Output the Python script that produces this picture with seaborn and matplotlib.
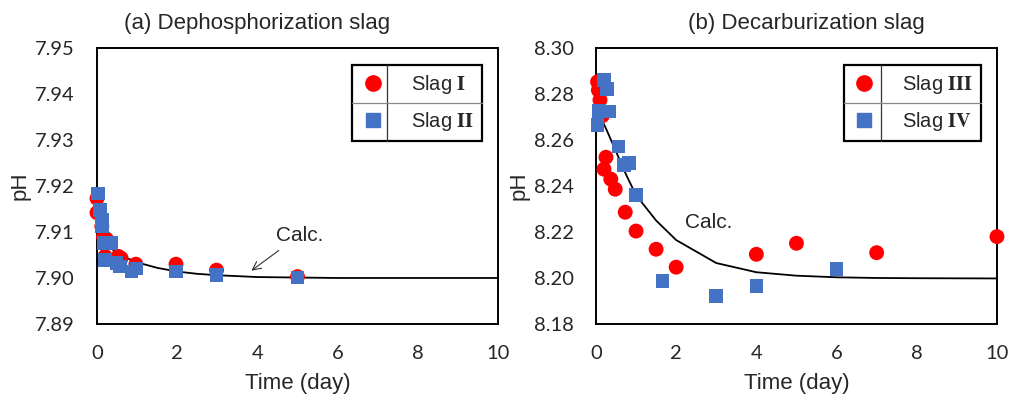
import matplotlib
matplotlib.use("Agg")
import matplotlib.pyplot as plt
import numpy as np
import pandas as pd
import seaborn as sns
from matplotlib.lines import Line2D

# --- data ---
# (a) dephosphorization slag
slag1_t = [0.0, 0.0, 0.12, 0.16, 0.24, 0.2, 0.53, 0.6, 0.97, 1.97, 2.98, 5.0]
slag1_ph = [7.9173, 7.9142, 7.9112, 7.9090, 7.9084, 7.9047, 7.9047, 7.9043,
            7.9030, 7.9030, 7.9017, 7.9003]
slag2_t = [0.03, 0.07, 0.12, 0.12, 0.16, 0.36, 0.2, 0.49, 0.57, 0.86, 0.99,
           1.97, 2.98, 5.0]
slag2_ph = [7.9184, 7.9148, 7.9126, 7.9112, 7.9076, 7.9076, 7.9039, 7.9032,
            7.9025, 7.9014, 7.9021, 7.9014, 7.9007, 7.9001]
calc_a_t = [0, 0.25, 0.5, 0.75, 1, 1.5, 2, 2.5, 3, 3.5, 4, 5, 6, 7, 8, 9, 10]
calc_a_ph = [7.9090, 7.9070, 7.9055, 7.9043, 7.9034, 7.9022, 7.9014, 7.9009,
             7.9006, 7.9004, 7.9002, 7.9001, 7.9000, 7.9000, 7.9000, 7.9000,
             7.9000]

# (b) decarburization slag
slag3_t = [0.04, 0.06, 0.10, 0.16, 0.25, 0.2, 0.37, 0.48, 0.73, 1.0, 1.5,
           2.0, 4.0, 5.0, 7.0, 10.0]
slag3_ph = [8.2853, 8.2817, 8.2774, 8.2706, 8.2525, 8.2473, 8.2430, 8.2386,
            8.2286, 8.2204, 8.2125, 8.2047, 8.2103, 8.2151, 8.2110, 8.2180]
slag4_t = [0.04, 0.07, 0.2, 0.28, 0.33, 0.56, 0.7, 0.83, 1.0, 1.66, 3.0,
           4.0, 6.0]
slag4_ph = [8.2665, 8.2727, 8.2861, 8.2822, 8.2723, 8.2571, 8.2491, 8.2499,
            8.2361, 8.1988, 8.1922, 8.1965, 8.2038]
calc_b_t = [0, 0.25, 0.5, 0.75, 1, 1.5, 2, 3, 4, 5, 6, 7, 8, 10]
calc_b_ph = [8.274, 8.265, 8.255, 8.245, 8.236, 8.225, 8.2165, 8.2065,
             8.2025, 8.201, 8.2003, 8.2000, 8.1999, 8.1998]

# --- style ---
RED = "#FF0000"
BLUE = "#4472C4"
TICK_FONT = "Lato"
TEXT_FONT = "Liberation Sans"

sns.set_style("white")
plt.rcParams["font.family"] = [TEXT_FONT, "DejaVu Sans"]
plt.rcParams["mathtext.fontset"] = "stix"


def draw_panel(ax, t1, p1, t2, p2, ct, cp, labels, title, title_x, ylim,
               yticks):
    df1 = pd.DataFrame({"t": t1, "ph": p1})
    df2 = pd.DataFrame({"t": t2, "ph": p2})
    dfc = pd.DataFrame({"t": ct, "ph": cp})

    sns.lineplot(data=dfc, x="t", y="ph", ax=ax, color="black", lw=1.3,
                 zorder=2)
    sns.scatterplot(data=df1, x="t", y="ph", ax=ax, color=RED, marker="o",
                    s=115, edgecolor="none", zorder=3, clip_on=False)
    sns.scatterplot(data=df2, x="t", y="ph", ax=ax, color=BLUE, marker="s",
                    s=95, edgecolor="none", zorder=4, clip_on=False)

    ax.set_xlim(0, 10)
    ax.set_ylim(*ylim)
    ax.set_xticks([0, 2, 4, 6, 8, 10])
    ax.set_yticks(yticks)
    ax.set_yticklabels([f"{v:.2f}" for v in yticks])
    ax.tick_params(direction="in", length=6, width=1, color="#555555")
    ax.tick_params(axis="x", pad=15)
    ax.tick_params(axis="y", pad=16)
    for lab in ax.get_xticklabels() + ax.get_yticklabels():
        lab.set_fontfamily(TICK_FONT)
        lab.set_fontsize(14.5)
    for sp in ax.spines.values():
        sp.set_visible(True)
        sp.set_color("black")
        sp.set_linewidth(1.4)

    ax.set_xlabel("Time (day)", fontsize=16, labelpad=8)
    ax.set_ylabel("pH", fontsize=16, labelpad=3)
    ax.set_title(title, fontsize=16, pad=14, x=title_x)

    handles = [
        Line2D([], [], marker="o", color=RED, ls="none", markersize=11),
        Line2D([], [], marker="s", color=BLUE, ls="none", markersize=9.5),
    ]
    leg = ax.legend(handles, labels, loc="upper right",
                    bbox_to_anchor=(0.96, 0.94), fontsize=14.5, frameon=True,
                    fancybox=False, edgecolor="black", framealpha=1,
                    borderpad=0.4, labelspacing=0.7, handletextpad=1.3,
                    handlelength=1.2, borderaxespad=0)
    leg.get_frame().set_linewidth(1.6)
    return leg


fig, (ax1, ax2) = plt.subplots(1, 2, figsize=(10.17, 4.07), dpi=100)
ax1.set_position([0.0954, 0.204, 0.3943, 0.678])
ax2.set_position([0.586, 0.204, 0.3943, 0.678])

leg1 = draw_panel(ax1, slag1_t, slag1_ph, slag2_t, slag2_ph, calc_a_t,
                  calc_a_ph, [r"Slag $\mathbf{I}$", r"Slag $\mathbf{II}$"],
                  "(a) Dephosphorization slag", 0.40, (7.89, 7.95),
                  [7.89, 7.90, 7.91, 7.92, 7.93, 7.94, 7.95])
leg2 = draw_panel(ax2, slag3_t, slag3_ph, slag4_t, slag4_ph, calc_b_t,
                  calc_b_ph, [r"Slag $\mathbf{III}$", r"Slag $\mathbf{IV}$"],
                  "(b) Decarburization slag", 0.525, (8.18, 8.30),
                  [8.18, 8.20, 8.22, 8.24, 8.26, 8.28, 8.30])

ax1.annotate("Calc.", xy=(3.85, 7.9016), xytext=(5.05, 7.9093),
             fontsize=15, ha="center", va="center",
             arrowprops=dict(arrowstyle="->", lw=0.8, color="#333333",
                             shrinkA=3, shrinkB=0))
ax2.text(2.8, 8.2243, "Calc.", fontsize=15, ha="center", va="center")

# grid lines inside the legend boxes (table look)
fig.canvas.draw()
for ax, leg in ((ax1, leg1), (ax2, leg2)):
    bb = leg.get_frame().get_window_extent().transformed(
        ax.transAxes.inverted())
    xdiv = bb.x0 + 0.27 * bb.width
    ymid = bb.y0 + 0.5 * bb.height
    ax.plot([xdiv, xdiv], [bb.y0, bb.y1], transform=ax.transAxes,
            color="#333333", lw=0.9, zorder=10)
    ax.plot([bb.x0, bb.x1], [ymid, ymid], transform=ax.transAxes,
            color="#888888", lw=0.9, zorder=10)

fig.savefig("out.png", dpi=100)
